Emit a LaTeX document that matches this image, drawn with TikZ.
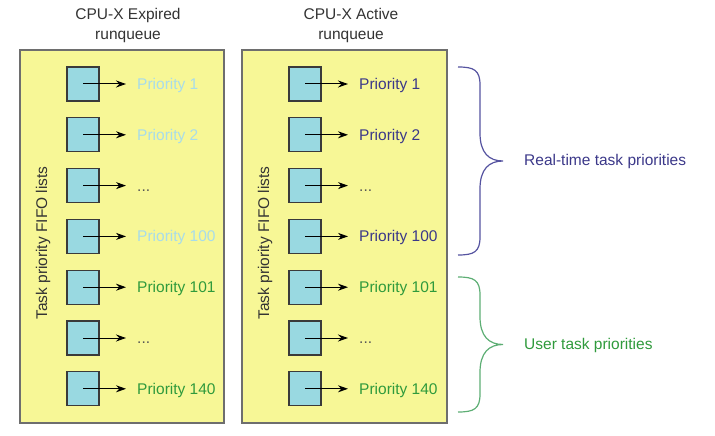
\documentclass[tikz,border=0pt]{standalone}
\usepackage{fontspec}
\setmainfont{Liberation Sans}
\usetikzlibrary{arrows.meta}
\definecolor{panelfill}{HTML}{F7F796}
\definecolor{panelline}{HTML}{6E6E6E}
\definecolor{cellfill}{HTML}{99D9E1}
\definecolor{cellline}{HTML}{3A3A3A}
\definecolor{lite}{HTML}{A8DCEA}
\definecolor{rt}{HTML}{3B3889}
\definecolor{usr}{HTML}{2F9A3C}
\definecolor{dots}{HTML}{555555}
\definecolor{txt}{HTML}{333333}
\definecolor{rtbrace}{HTML}{5553A0}
\definecolor{usrbrace}{HTML}{5DAE74}
\newcommand\skipped{...}
\begin{document}
\begin{tikzpicture}[x=1pt,y=-1pt,font=\fontsize{15.5}{20}\selectfont,
cell/.style={draw=cellline,fill=cellfill,line width=1.3pt,minimum width=32pt,minimum height=34pt,inner sep=0pt},
prio/.style={anchor=west,inner sep=0pt,text height=11pt,text depth=0pt},
link/.style={-{Stealth[length=10pt,width=7pt]},line width=1pt}]
\useasboundingbox(0,0)rectangle(715,436);
% the two runqueues
\draw[panelline,fill=panelfill,line width=1.5pt](20,50)rectangle(224,423);
\draw[panelline,fill=panelfill,line width=1.5pt](242,50)rectangle(447,423);
\node[align=center,text=txt](etitle)at(128,25){CPU-X Expired\\runqueue};
\node[align=center,text=txt](atitle)at(351,25){CPU-X Active\\runqueue};
\node[rotate=90,text=txt](elist)at(43,243){Task priority FIFO lists};
\node[rotate=90,text=txt](alist)at(265,243){Task priority FIFO lists};
% FIFO lists
\foreach \p/\dx/\hi in {e/0/lite,a/222/rt}
\foreach \i/\t/\c in {1/Priority 1/\hi,2/Priority 2/\hi,3/\skipped/dots,4/Priority 100/\hi,
5/Priority 101/usr,6/\skipped/dots,7/Priority 140/usr}{
\node[cell](\p\i)at({83+\dx},{84+50.8*(\i-1)}){};
\node[prio,text=\c](\p t\i)at({137+\dx},{84+50.8*(\i-1)}){\t};
\draw[link](\p\i.center)--([xshift=-11pt]\p t\i.west);
}
% braces
\foreach \ya/\yb/\c in {67/255/rtbrace,277/412/usrbrace}{
\pgfmathsetmacro\ym{(\ya+\yb)/2}
\draw[draw=\c,line width=1.2pt](458,\ya)..controls(474,\ya)and(480,\ya+3)..(480,\ya+18)
--(480,\ym-28)..controls(480,\ym-8)and(489,\ym)..(503,\ym)
..controls(489,\ym)and(480,\ym+8)..(480,\ym+28)
--(480,\yb-18)..controls(480,\yb-3)and(474,\yb)..(458,\yb);
}
\node[anchor=west,inner sep=0pt,text=rt](rtlabel)at(524,161){Real-time task priorities};
\node[anchor=west,inner sep=0pt,text=usr](usrlabel)at(524,345){User task priorities};
\end{tikzpicture}
\end{document}
